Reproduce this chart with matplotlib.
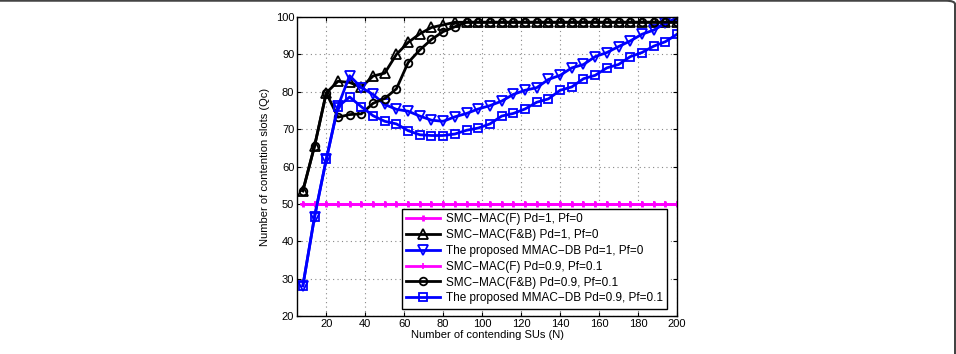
import numpy as np
import matplotlib.pyplot as plt
from matplotlib.patches import FancyBboxPatch

# number of contending SUs
n_su = list(range(8, 201, 6))

smc_f_ideal = [50] * len(n_su)
smc_f_noisy = [50] * len(n_su)

smc_fb_ideal = [53.5, 65.5, 79.7, 82.8, 82.5, 81.2, 84.2, 85.0, 90.0, 93.2, 95.5, 97.2,
                97.9] + [98.6] * 20

mmac_ideal = [28.1, 46.6, 61.9, 76.1, 84.3, 81.1, 79.3, 76.6, 75.3, 74.8, 73.5, 72.4,
              72.1, 73.3, 74.2, 75.4, 76.3, 77.5, 79.3, 80.4, 81.1, 83.3, 84.4, 86.4,
              87.3, 89.4, 90.5, 92.1, 93.6, 95.4, 96.5, 98.3, 99.8]

smc_fb_noisy = [53.5, 65.5, 79.7, 73.2, 73.9, 74.1, 76.9, 78.2, 80.8, 87.8, 91.2, 94.0,
                96.1, 97.4] + [98.6] * 19

mmac_noisy = [28.1, 46.6, 61.9, 76.0, 78.6, 76.0, 73.6, 72.1, 71.4, 69.6, 68.5, 68.3,
              68.3, 68.7, 69.7, 70.3, 71.4, 73.5, 74.2, 75.4, 77.2, 78.1, 80.4, 81.3,
              83.5, 84.4, 86.4, 87.3, 89.4, 90.5, 92.2, 93.4, 95.4]

plt.rcParams['font.family'] = ['Liberation Sans', 'DejaVu Sans']

fig = plt.figure(figsize=(9.56, 3.54), dpi=100)
ax = fig.add_axes([0.3107, 0.1073, 0.3975, 0.8446])

ax.plot(n_su, smc_f_ideal, color='#ff00ff', marker='+', markersize=5, mew=2, lw=2,
        label='SMC\u2212MAC(F) Pd=1, Pf=0')
ax.plot(n_su, smc_fb_ideal, color='black', marker='^', markersize=6.5, mfc='none', mew=1.3, lw=2,
        label='SMC\u2212MAC(F&B) Pd=1, Pf=0')
ax.plot(n_su, mmac_ideal, color='blue', marker='v', markersize=6.5, mfc='none', mew=1.3, lw=2,
        label='The proposed MMAC\u2212DB Pd=1, Pf=0')
ax.plot(n_su, smc_f_noisy, color='#ff00ff', marker='+', markersize=5, mew=1.2, lw=2,
        label='SMC\u2212MAC(F) Pd=0.9, Pf=0.1')
ax.plot(n_su, smc_fb_noisy, color='black', marker='o', markersize=5.5, mfc='none', mew=1.3, lw=2,
        label='SMC\u2212MAC(F&B) Pd=0.9, Pf=0.1')
ax.plot(n_su, mmac_noisy, color='blue', marker='s', markersize=5.5, mfc='none', mew=1.3, lw=2,
        label='The proposed MMAC\u2212DB Pd=0.9, Pf=0.1')

ax.set_xlim(5, 200)
ax.set_ylim(20, 100)
ax.set_xticks(range(20, 201, 20))
ax.set_yticks(range(20, 101, 10))
ax.tick_params(direction='in', top=True, right=True, labelsize=8, length=3, pad=2)
ax.grid(True, linestyle=(0, (1, 3)), color='#888888', linewidth=0.8)
for s in ax.spines.values():
    s.set_linewidth(1.0)

ax.set_xlabel('Number of contending SUs (N)', fontsize=8, labelpad=1)
ax.set_ylabel('Number of contention slots (Qc)', fontsize=8, labelpad=4)

leg = ax.legend(loc='lower right', fontsize=8.5, fancybox=False, framealpha=1,
                edgecolor='black', borderpad=0.35, labelspacing=0.33, handlelength=2.9,
                handletextpad=0.5, bbox_to_anchor=(0.99, 0.005))
leg.get_frame().set_linewidth(1.0)

# journal figure frame (only top and right edges are visible)
frame = FancyBboxPatch((-0.05, -0.05), 1.049, 1.048, boxstyle='round,pad=0,rounding_size=0.01',
                       transform=fig.transFigure, fill=False, edgecolor='#444444', linewidth=1.5,
                       clip_on=False)
fig.add_artist(frame)

fig.savefig('out.png', dpi=100)
